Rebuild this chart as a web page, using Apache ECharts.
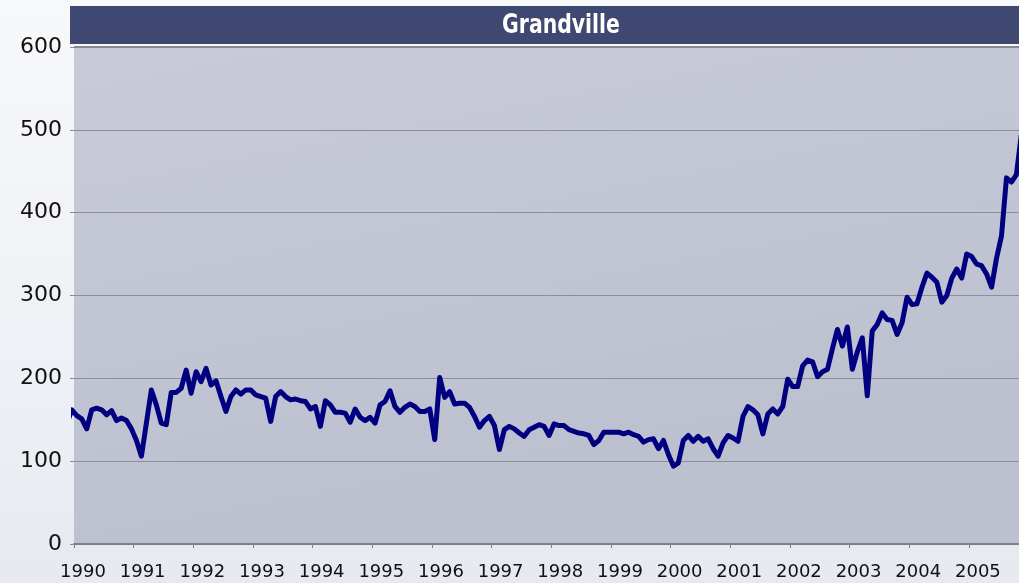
<!DOCTYPE html>
<html>
<head>
<meta charset="utf-8">
<script src="https://cdn.jsdelivr.net/npm/echarts@6/dist/echarts.min.js"></script>
<style>
html, body { margin: 0; padding: 0; }
body { background: linear-gradient(180deg, #f7f8fa 0%, #eef1f5 60%, #e6eaf0 100%); }
#chartmain { width: 1019px; height: 583px; }
</style>
</head>
<body>
<div id="chartmain"></div>
<script>
var chart_title = 'Grandville';
// monthly series, first sample sits just before the 1990 tick
var first_month = 1989.88;
var data_y = [
    145, 162, 155, 151, 139, 162, 164, 162, 156, 161,
    149, 152, 149, 139, 125, 106, 146, 186, 168, 146,
    144, 183, 183, 188, 210, 182, 208, 196, 212, 192,
    197, 178, 160, 178, 186, 181, 186, 186, 180, 178,
    176, 148, 178, 184, 178, 174, 175,
    173, 172, 163, 166, 142, 173, 168, 159, 159, 158,
    147, 163, 153, 149, 153, 146, 168, 172, 185, 166,
    159, 165, 169, 166, 160, 160, 163, 126, 201, 177,
    184, 169, 170, 170, 165, 154, 141, 149, 154, 143,
    114, 138, 142, 139, 134, 130, 138, 141,
    144, 142, 131, 145, 143, 143, 138, 136, 134, 133,
    131, 120, 125, 135, 135, 135, 135, 133, 135, 132,
    130, 123, 126, 127, 115, 125, 108, 94, 98, 125,
    131, 124, 130, 124, 127, 115, 106, 122, 131, 128,
    124, 154, 166, 162, 156, 133, 157,
    163, 157, 166, 199, 190, 190, 215, 222, 220, 202,
    208, 211, 236, 259, 239, 262, 211, 232, 249, 179,
    257, 265, 279, 271, 270, 253, 267, 298, 289, 290,
    310, 327, 322, 316, 292, 300, 321, 332, 321, 350,
    347, 338, 336, 326, 310, 345, 372, 442, 437, 446,
    495
];
var y_ticks = [0, 100, 200, 300, 400, 500, 600];

var series_data = data_y.map(function (v, i) {
    return [first_month + i / 12, v];
});

option = {
    animation: false,
    graphic: [{
        type: 'rect',
        shape: { x: 70, y: 6, width: 960, height: 38 },
        style: { fill: '#3e4870' },
        z: 0
    }, {
        type: 'text',
        x: 561,
        y: 26,
        scaleX: 0.84,
        style: {
            text: chart_title,
            fill: '#ffffff',
            font: 'bold 27px "Liberation Sans Narrow", "DejaVu Sans Condensed", sans-serif',
            align: 'center',
            verticalAlign: 'middle'
        },
        z: 1
    }],
    grid: {
        left: 74,
        right: 0,
        top: 47,
        bottom: 39,
        show: true,
        borderWidth: 0,
        backgroundColor: new echarts.graphic.LinearGradient(0, 0, 0.1, 1, [{
            offset: 0,
            color: '#c8cad7'
        }, {
            offset: 1,
            color: '#bdc1cf'
        }])
    },
    xAxis: {
        type: 'value',
        min: 1990,
        max: 2005.84,
        interval: 1,
        splitLine: {
            show: false
        },
        axisLine: {
            lineStyle: {
                color: '#7f7f87',
                width: 2
            }
        },
        axisTick: {
            length: 4,
            lineStyle: {
                color: '#7f7f87'
            }
        },
        axisLabel: {
            showMaxLabel: false,
            margin: 19,
            padding: [0, 0, 0, 18],
            fontFamily: 'DejaVu Sans',
            fontSize: 18,
            color: '#111',
            formatter: function (v) { return String(Math.round(v)); }
        }
    },
    yAxis: {
        type: 'value',
        min: y_ticks[0],
        max: y_ticks[y_ticks.length - 1],
        interval: 100,
        axisLine: {
            show: false
        },
        axisTick: {
            show: true,
            length: 4,
            lineStyle: {
                color: '#8a8a92'
            }
        },
        splitLine: {
            lineStyle: {
                color: '#8e8e98',
                width: 1
            }
        },
        axisLabel: {
            margin: 12,
            fontFamily: 'DejaVu Sans',
            fontSize: 22,
            color: '#111',
            padding: [0, 0, 4, 0]
        }
    },
    series: [{
        type: 'line',
        data: series_data,
        showSymbol: false,
        clip: false,
        lineStyle: {
            color: '#000080',
            width: 5,
            join: 'round'
        },
        markLine: {
            silent: true,
            symbol: 'none',
            label: { show: false },
            lineStyle: { color: '#88888f', width: 2, type: 'solid' },
            data: [{ yAxis: y_ticks[y_ticks.length - 1] }]
        }
    }]
};

var myChart = echarts.init(document.getElementById('chartmain'));
myChart.setOption(option);
</script>
</body>
</html>
